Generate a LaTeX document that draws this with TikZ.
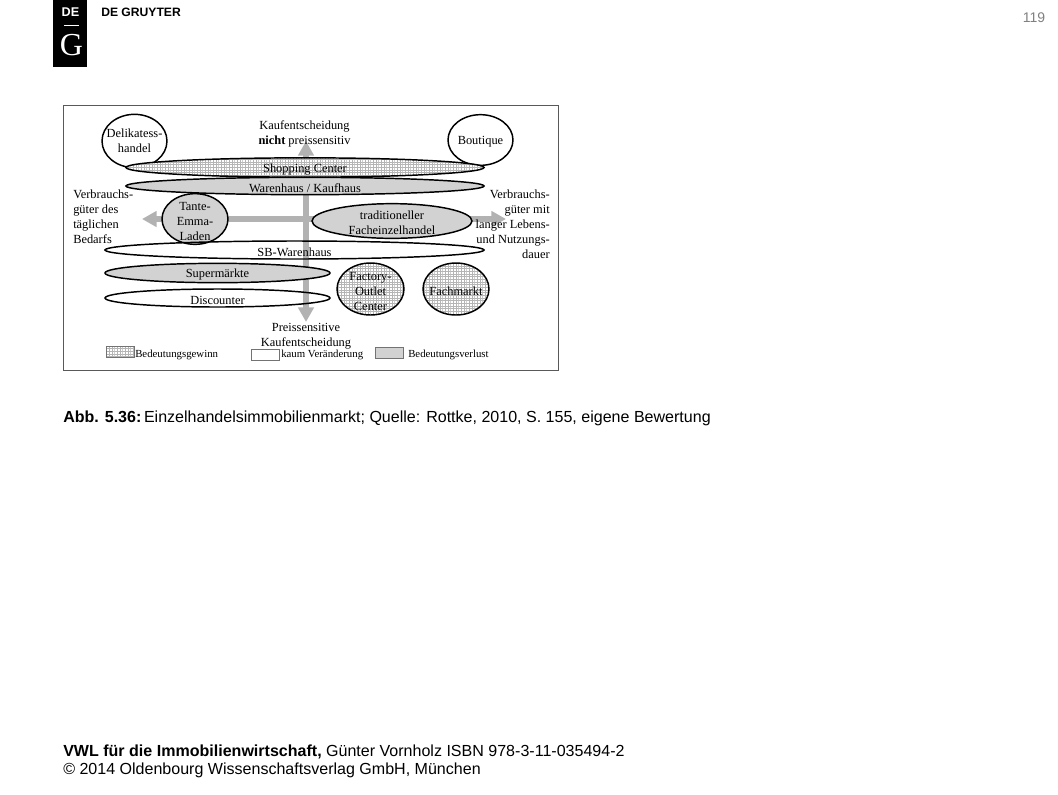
\documentclass[tikz,border=0pt]{standalone}
\usepackage{fontspec}
\setmainfont{Liberation Sans}
\newfontfamily\figserif{Liberation Serif}
\usetikzlibrary{shapes.geometric,arrows.meta,patterns}
\pgfdeclarepatternformonly{finegrid}{\pgfqpoint{-0.2pt}{-0.2pt}}{\pgfqpoint{2pt}{2pt}}{\pgfqpoint{2pt}{2pt}}{%
  \pgfsetlinewidth{0.3pt}
  \pgfpathmoveto{\pgfqpoint{0pt}{0pt}}\pgfpathlineto{\pgfqpoint{2pt}{0pt}}
  \pgfpathmoveto{\pgfqpoint{0pt}{0pt}}\pgfpathlineto{\pgfqpoint{0pt}{2pt}}
  \pgfusepath{stroke}}
\definecolor{lossgray}{HTML}{D2D2D2}
\definecolor{axisgray}{HTML}{B2B2B2}
\definecolor{gridgray}{HTML}{B4B4B4}
\begin{document}
\begin{tikzpicture}[x=0.75pt,y=-0.75pt,
  same node/.style={ellipse,draw,line width=1.1pt,inner sep=0pt},
  gain node/.style={same node,preaction={fill=white},preaction={pattern=finegrid,pattern color=gridgray}},
  loss node/.style={same node,fill=lossgray},
  fig text/.style={font=\figserif\fontsize{9.3}{11.25}\selectfont,inner sep=0pt,align=center,yshift=-1.5pt},
  legend text/.style={font=\figserif\fontsize{8.1}{10}\selectfont,inner sep=0pt,anchor=west},
  axis arrow/.style={-{Triangle[length=11pt,width=11.5pt]},line width=3.8pt,axisgray},
  page text/.style={font=\fontsize{12.03}{14}\selectfont,inner sep=0pt,anchor=west,align=left}]
  \useasboundingbox (0,0) rectangle (1058,794);

  % logo
  \node[fill=black,minimum width=25.5pt,minimum height=50.25pt,inner sep=0pt,anchor=north west] (logo) at (53,0) {};
  \node[text=white,font=\bfseries\fontsize{9.5}{9.5}\selectfont,inner sep=0pt] (logoDE) at (70.5,12.5) {DE};
  \coordinate (ruleW) at (64,25.5);
  \coordinate (ruleE) at (79,25.5);
  \path[] (ruleW) [-,white,line width=0.9pt] edge node [] {} (ruleE);
  \node[text=white,font=\figserif\fontsize{24}{24}\selectfont,inner sep=0pt] (logoG) at (71.5,45) {G};
  \node[font=\bfseries\fontsize{9.1}{10}\selectfont,inner sep=0pt,anchor=west] (brand) at (101,12.5) {DE GRUYTER};
  \node[font=\fontsize{10.5}{12}\selectfont,text=gray,inner sep=0pt,anchor=east] (page) at (1045.5,18) {119};

  % figure frame
  \node[draw=black!65,line width=0.8pt,minimum width=371.25pt,minimum height=198.75pt,inner sep=0pt,anchor=north west] (frame) at (63,105) {};

  % axes
  \coordinate (axisC) at (306,219);
  \coordinate (axisN) at (306,141);
  \coordinate (axisS) at (306,322);
  \coordinate (axisW) at (142,219);
  \coordinate (axisE) at (506,219);
  \path[] (axisC) [axis arrow] edge node [] {} (axisN);
  \path[] (axisC) [axis arrow] edge node [] {} (axisS);
  \path[] (axisC) [axis arrow] edge node [] {} (axisW);
  \path[] (axisC) [axis arrow] edge node [] {} (axisE);

  % ellipses
  \node[same node,fill=white,minimum width=48.75pt,minimum height=40pt] (n0) at (134.5,141) {};
  \node[same node,fill=white,minimum width=48.75pt,minimum height=38pt] (n1) at (480.5,140) {};
  \node[gain node,minimum width=268.5pt,minimum height=14.5pt] (n2) at (305,167.5) {};
  \node[loss node,minimum width=268.5pt,minimum height=13pt] (n3) at (305,186) {};
  \node[loss node,minimum width=49.5pt,minimum height=38pt] (n4) at (195,219) {};
  \node[loss node,minimum width=120pt,minimum height=26pt] (n5) at (392,221) {};
  \node[same node,minimum width=284.25pt,minimum height=13.5pt] (n6) at (294.5,250) {};
  \node[loss node,minimum width=168.75pt,minimum height=14.5pt] (n7) at (217.5,273) {};
  \node[same node,minimum width=168.75pt,minimum height=13.5pt] (n8) at (217.5,298) {};
  \node[gain node,minimum width=50.25pt,minimum height=39pt] (n9) at (370.5,289) {};
  \node[gain node,minimum width=49.5pt,minimum height=39pt] (n10) at (456,289) {};

  % ellipse labels
  \node[fig text] (t0) at (134.5,138.5) {Delikatess-\\handel};
  \node[fig text] (t1) at (n1) {Boutique};
  \node[fig text] (t2) at (n2) {Shopping Center};
  \node[fig text] (t3) at (n3) {Warenhaus / Kaufhaus};
  \node[fig text] (t4) at (n4) {Tante-\\Emma-\\Laden};
  \node[fig text] (t5) at (n5) {traditioneller\\Facheinzelhandel};
  \node[fig text] (t6) at (n6) {SB-Warenhaus};
  \node[fig text] (t7) at (n7) {Supermärkte};
  \node[fig text] (t8) at (n8) {Discounter};
  \node[fig text] (t9) at (n9) {Factory-\\Outlet\\Center};
  \node[fig text] (t10) at (n10) {Fachmarkt};

  % axis labels
  \node[fig text] (top) at (304.5,132) {Kaufentscheidung\\\textbf{nicht} preissensitiv};
  \node[fig text] (bottom) at (306,334) {Preissensitive\\Kaufentscheidung};
  \node[fig text,align=left,anchor=west] (left) at (73,214.5) {Verbrauchs-\\güter des\\täglichen\\Bedarfs};
  \node[fig text,align=right,anchor=east] (right) at (550,222.5) {Verbrauchs-\\güter mit\\langer Lebens-\\und Nutzungs-\\dauer};

  % legend
  \node[draw=black!55,line width=0.4pt,preaction={pattern=finegrid,pattern color=gridgray},minimum width=21pt,minimum height=8.5pt,inner sep=0pt] (key0) at (120,352) {};
  \node[legend text] (lab0) at (135,355) {Bedeutungsgewinn};
  \node[draw=black!55,line width=0.4pt,minimum width=21pt,minimum height=8pt,inner sep=0pt] (key1) at (265,355) {};
  \node[legend text] (lab1) at (281,355) {kaum Veränderung};
  \node[draw=black!55,line width=0.4pt,fill=lossgray,minimum width=21pt,minimum height=8pt,inner sep=0pt] (key2) at (389,352.5) {};
  \node[legend text] (lab2) at (408,355) {Bedeutungsverlust};

  % caption and footer
  \node[page text] (caption) at (63,418.5) {\textbf{Abb. 5.36:}\hspace{-2.5pt} Einzelhandelsimmobilienmarkt; Quelle: Rottke, 2010, S. 155, eigene Bewertung};
  \node[page text] (foot0) at (63,752) {\textbf{VWL für die Immobilienwirtschaft,} Günter Vornholz ISBN 978-3-11-035494-2};
  \node[page text] (foot1) at (63,770.5) {© 2014 Oldenbourg Wissenschaftsverlag GmbH, München};
\end{tikzpicture}
\end{document}
